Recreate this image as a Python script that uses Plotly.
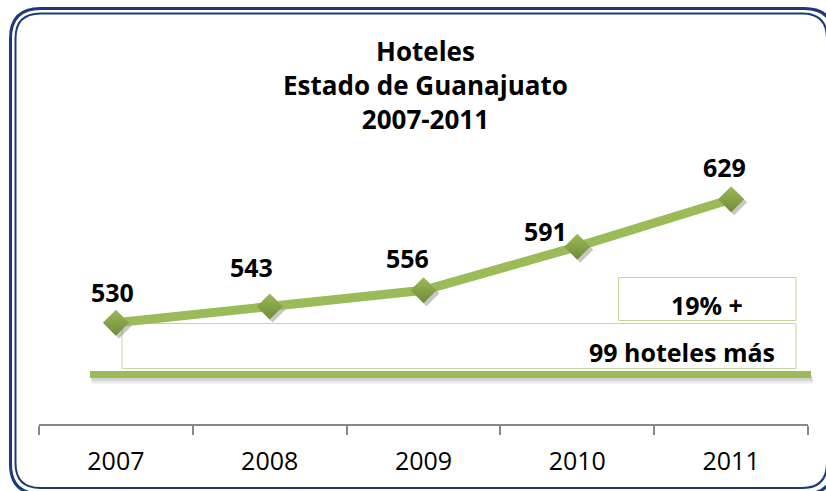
import plotly.graph_objects as go

# ---- data ----
years = ["2007", "2008", "2009", "2010", "2011"]
hotels = [530, 543, 556, 591, 629]
title_lines = ["Hoteles", "Estado de Guanajuato", "2007-2011"]
growth_pct_text = "19% +"
growth_abs_text = "99 hoteles más"

# ---- styling ----
W, H = 826, 491
L, R, T, B = 39, 15, 100, 64
PW, PH = W - L - R, H - T - B
SH = 3  # shadow offset px
GREEN = "#9bbb59"
GREEN_DARK = "#6f8b35"
BOX_LINE = "#c3d69b"
NAVY = "#1c3a78"
FONT = "Open Sans"
# per-label pixel offsets (dx, dy up)
label_offsets = [(-3, 31), (-18, 39), (-16, 32), (-32, 16), (-7, 32)]


def fx(px):
    return (px - L) / PW


def fy(py):
    return (H - B - py) / PH


def rrect_path(x0, y0, x1, y1, r):
    pts = [
        ("M", [(x0 + r, y0)]),
        ("L", [(x1 - r, y0)]),
        ("Q", [(x1, y0), (x1, y0 + r)]),
        ("L", [(x1, y1 - r)]),
        ("Q", [(x1, y1), (x1 - r, y1)]),
        ("L", [(x0 + r, y1)]),
        ("Q", [(x0, y1), (x0, y1 - r)]),
        ("L", [(x0, y0 + r)]),
        ("Q", [(x0, y0), (x0 + r, y0)]),
    ]
    s = ""
    for cmd, ps in pts:
        s += cmd + " " + " ".join(f"{fx(a):.5f},{fy(b):.5f}" for a, b in ps) + " "
    return s + "Z"


yr_lo, yr_hi = 448.73, 708.66

fig = go.Figure()

# shadow of markers (subplot 1, shifted domain)
fig.add_trace(go.Scatter(
    x=years, y=hotels, mode="markers", xaxis="x", yaxis="y",
    marker=dict(symbol="diamond", size=20, color="rgba(0,0,0,0.22)", line=dict(width=0)),
    hoverinfo="skip", showlegend=False,
))
# main line
fig.add_trace(go.Scatter(
    x=years, y=hotels, mode="lines+markers", xaxis="x2", yaxis="y2",
    line=dict(color=GREEN, width=9),
    marker=dict(symbol="diamond", size=20, color=GREEN,
                gradient=dict(type="vertical", color=GREEN_DARK), line=dict(width=0)),
    showlegend=False,
))

annotations = []
for i, v in enumerate(hotels):
    dx, dy = label_offsets[i]
    annotations.append(dict(
        x=i, y=v, xref="x2", yref="y2", text=str(v), showarrow=False,
        xanchor="center", yanchor="middle", xshift=dx, yshift=dy,
        font=dict(family=FONT, size=25, color="#000000", weight="bold"),
    ))

annotations.append(dict(
    x=0.5, xref="paper", y=fy(85), yref="paper", text="<br>".join(title_lines),
    showarrow=False, xanchor="center", yanchor="middle", align="center",
    font=dict(family=FONT, size=26, color="#000000", weight="bold"),
))
annotations.append(dict(
    x=fx(707), xref="paper", y=fy(305), yref="paper", text=growth_pct_text,
    showarrow=False, xanchor="center", yanchor="middle",
    font=dict(family=FONT, size=25, color="#000000", weight="bold"),
))
annotations.append(dict(
    x=fx(777), xref="paper", y=fy(352), yref="paper", text=growth_abs_text,
    showarrow=False, xanchor="right", yanchor="middle",
    font=dict(family=FONT, size=25, color="#000000", weight="bold"),
))

shapes = [
    # borders
    dict(type="path", xref="paper", yref="paper", path=rrect_path(10.5, 8.5, 834, 494, 30),
         line=dict(color=NAVY, width=3), layer="below"),
    dict(type="path", xref="paper", yref="paper", path=rrect_path(15.5, 13.5, 827, 488, 25),
         line=dict(color=NAVY, width=2), layer="below"),
    # boxes
    dict(type="rect", xref="paper", yref="paper", x0=fx(122), x1=fx(796), y0=fy(323.5), y1=fy(368.5),
         line=dict(color=BOX_LINE, width=1), layer="below"),
    dict(type="rect", xref="paper", yref="paper", x0=fx(618.5), x1=fx(796), y0=fy(277.5), y1=fy(320.5),
         line=dict(color=BOX_LINE, width=1), layer="below"),
    # baseline decoration with soft shadow
    dict(type="line", xref="paper", yref="paper", x0=fx(92), x1=fx(813), y0=fy(380), y1=fy(380),
         line=dict(color="rgba(0,0,0,0.08)", width=7), layer="below"),
    dict(type="line", xref="paper", yref="paper", x0=fx(91), x1=fx(812), y0=fy(378), y1=fy(378),
         line=dict(color="rgba(0,0,0,0.10)", width=6), layer="below"),
    dict(type="line", xref="paper", yref="paper", x0=fx(90), x1=fx(811), y0=fy(374.5), y1=fy(374.5),
         line=dict(color=GREEN, width=7), layer="below"),
]

fig.update_layout(
    width=W, height=H,
    margin=dict(l=L, r=R, t=T, b=B, pad=0),
    paper_bgcolor="white", plot_bgcolor="rgba(0,0,0,0)",
    showlegend=False,
    xaxis=dict(type="category", range=[-0.5, 4.5], domain=[SH / PW, 1], visible=False,
               fixedrange=True),
    yaxis=dict(range=[yr_lo, yr_hi], domain=[0, 1 - SH / PH], visible=False, fixedrange=True),
    xaxis2=dict(type="category", range=[-0.5, 4.5], domain=[0, 1 - SH / PW], anchor="y2",
                showline=True, linecolor="#888888", linewidth=2,
                ticks="outside", ticklen=9, tickwidth=2, tickcolor="#888888",
                tickson="boundaries", showgrid=False, zeroline=False,
                ticklabelstandoff=14,
                tickfont=dict(family=FONT, size=25, color="#000000")),
    yaxis2=dict(range=[yr_lo, yr_hi], domain=[SH / PH, 1], anchor="x2", visible=False),
    annotations=annotations,
    shapes=shapes,
)

fig.write_html(
    "out.html",
    config={"displayModeBar": False},
    post_script="document.body.style.margin='0';document.body.style.overflow='hidden';",
)
